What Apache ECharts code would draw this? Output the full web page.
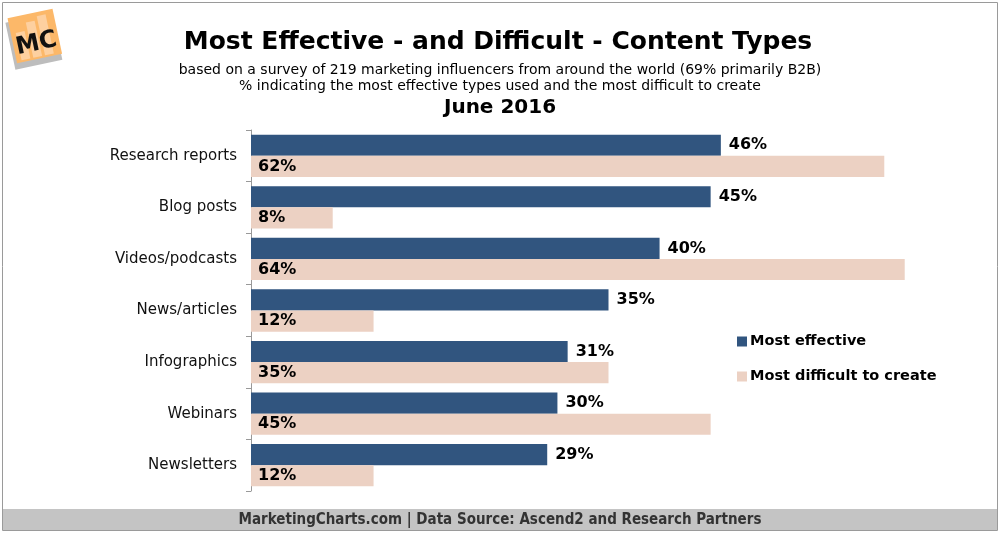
<!DOCTYPE html>
<html>
<head>
<meta charset="utf-8">
<script src="https://cdn.jsdelivr.net/npm/echarts@6/dist/echarts.min.js"></script>
<style>html,body{margin:0;padding:0;background:#fff}#c{width:1000px;height:535px}</style>
</head>
<body>
<div id="c"></div>
<script>
var categories = ['Research reports','Blog posts','Videos/podcasts','News/articles','Infographics','Webinars','Newsletters'];
var mostEffective = [46, 45, 40, 35, 31, 30, 29];
var mostDifficult = [62, 8, 64, 12, 35, 45, 12];
var seriesNames = ['Most effective', 'Most difficult to create'];

var chart = echarts.init(document.getElementById('c'), null, {renderer: 'canvas'});
var base = 'DejaVu Sans, Verdana, sans-serif';
var cond = 'DejaVu Sans Condensed, DejaVu Sans, sans-serif';
chart.setOption({
  animation: false,
  backgroundColor: '#fff',
  grid: {left: 251, right: 34, top: 130, bottom: 44},
  xAxis: {type: 'value', min: 0, max: 70, show: false},
  yAxis: {
    type: 'category', data: categories, inverse: true,
    axisLine: {lineStyle: {color: '#999', width: 1}},
    axisTick: {show: true, length: 5, lineStyle: {color: '#999'}},
    axisLabel: {color: '#111', fontFamily: base, fontSize: 15, margin: 14}
  },
  legend: {
    orient: 'vertical', left: 732, top: 329, itemWidth: 10, itemHeight: 10, itemGap: 20,
    icon: 'rect',
    textStyle: {fontFamily: base, fontWeight: 'bold', fontSize: 14.5, color: '#000', padding: [0, 0, 0, -2]},
    data: seriesNames
  },
  series: [
    {
      name: seriesNames[0], type: 'bar', data: mostEffective,
      barGap: '0%', barCategoryGap: '18%',
      itemStyle: {color: '#31557f'},
      label: {show: true, position: 'right', distance: 8, formatter: '{c}%',
        fontFamily: base, fontWeight: 'bold', fontSize: 16, color: '#000'}
    },
    {
      name: seriesNames[1], type: 'bar', data: mostDifficult,
      barGap: '0%', barCategoryGap: '18%',
      itemStyle: {color: '#ecd1c3'},
      label: {show: true, position: 'insideLeft', distance: 7, formatter: '{c}%',
        fontFamily: base, fontWeight: 'bold', fontSize: 16, color: '#000'}
    }
  ],
  graphic: [
    {type: 'rect', shape: {x: 2.5, y: 2.5, width: 995, height: 528}, style: {fill: null, stroke: '#9a9a9a', lineWidth: 1}, z: 1},
    {type: 'rect', shape: {x: 3, y: 509, width: 994, height: 21}, style: {fill: '#c4c4c4'}, z: 0},
    {type: 'text', x: 500, y: 520, style: {text: 'MarketingCharts.com | Data Source: Ascend2 and Research Partners', fill: '#333', font: 'bold 15px ' + cond, textAlign: 'center', textVerticalAlign: 'middle'}},
    {type: 'text', x: 498, y: 42, style: {text: 'Most Effective - and Difficult - Content Types', fill: '#000', font: 'bold 25px ' + base, textAlign: 'center', textVerticalAlign: 'middle'}},
    {type: 'text', x: 500, y: 70, style: {text: 'based on a survey of 219 marketing influencers from around the world (69% primarily B2B)', fill: '#000', font: '14px ' + base, textAlign: 'center', textVerticalAlign: 'middle'}},
    {type: 'text', x: 500, y: 86, style: {text: '% indicating the most effective types used and the most difficult to create', fill: '#000', font: '14px ' + base, textAlign: 'center', textVerticalAlign: 'middle'}},
    {type: 'text', x: 500, y: 108, style: {text: 'June 2016', fill: '#000', font: 'bold 20px ' + base, textAlign: 'center', textVerticalAlign: 'middle'}},
    {type: 'group', x: 35, y: 37, rotation: 0.21, children: [
      {type: 'rect', shape: {x: -26, y: -20, width: 48, height: 48}, style: {fill: '#bdbdbd'}},
      {type: 'rect', shape: {x: -23, y: -24, width: 46, height: 46}, style: {fill: '#fcb869'}},
      {type: 'rect', shape: {x: -18, y: -8, width: 9, height: 28}, style: {fill: '#fdd0a0'}},
      {type: 'rect', shape: {x: -6, y: -16, width: 9, height: 36}, style: {fill: '#fdd0a0'}},
      {type: 'rect', shape: {x: 6, y: -20, width: 9, height: 40}, style: {fill: '#fdd0a0'}},
      {type: 'text', x: 0, y: 7, style: {text: 'MC', fill: '#111', font: 'bold 24px ' + base, textAlign: 'center', textVerticalAlign: 'middle'}}
    ]}
  ]
});
</script>
</body>
</html>
